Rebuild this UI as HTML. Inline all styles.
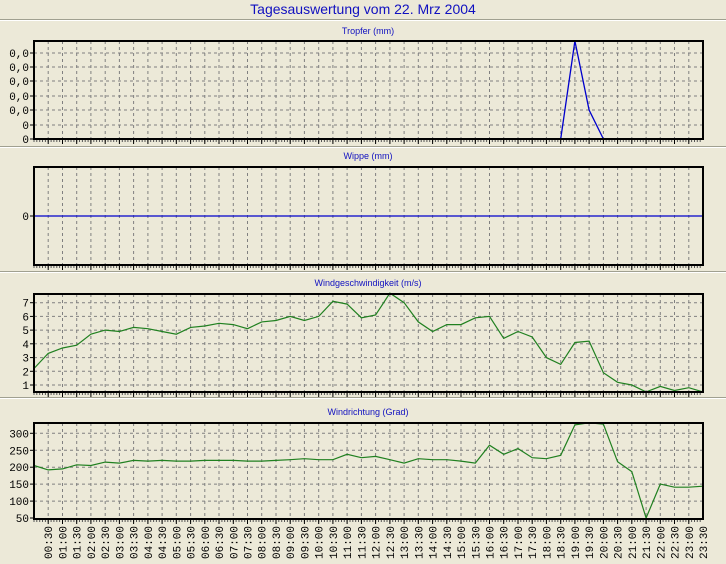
<!DOCTYPE html>
<html><head><meta charset="utf-8"><style>
html,body{margin:0;padding:0;background:#ECE9D8;}
svg{display:block;}
text{font-family:"Liberation Sans",sans-serif;}
.m{font-family:"Liberation Mono",monospace;font-size:11px;fill:#000;}
</style></head><body>
<svg id="s" width="726" height="564" xmlns="http://www.w3.org/2000/svg"></svg>
<script>
const s=document.getElementById('s');let h='';
const X=k=>34+k*669/47;
h+='<rect width="726" height="564" fill="#ECE9D8"/>';
h+='<text x="363" y="14" text-anchor="middle" font-size="14" fill="#1010c0">Tagesauswertung vom 22. Mrz 2004</text>';
[19,146,271,397].forEach(y=>{h+=`<line x1="0" x2="726" y1="${y}.5" y2="${y}.5" stroke="#a0a090"/><line x1="0" x2="726" y1="${y+1}.5" y2="${y+1}.5" stroke="#fff"/>`;});
const panels=[
 {t:'Tropfer (mm)',ty:34,top:41,bot:139,hy:[53,67,81,96,110,125],lab:[[53,'0,0'],[67,'0,0'],[81,'0,0'],[96,'0,0'],[110,'0,0'],[125,'0'],[139,'0']]},
 {t:'Wippe (mm)',ty:159,top:167,bot:265,hy:[],lab:[[216,'0']]},
 {t:'Windgeschwindigkeit (m/s)',ty:286,top:294,bot:392,hy:[],lab:[]},
 {t:'Windrichtung (Grad)',ty:415,top:423,bot:519,hy:[],lab:[]}
];
const ws=[2.2,3.3,3.7,3.9,4.7,5.0,4.9,5.2,5.1,4.9,4.7,5.2,5.3,5.5,5.4,5.1,5.6,5.7,6.0,5.7,6.0,7.1,6.9,5.9,6.1,7.7,7.0,5.6,4.9,5.4,5.4,5.9,6.0,4.4,4.9,4.5,3.0,2.5,4.1,4.2,1.9,1.2,1.0,0.5,0.9,0.6,0.8,0.5];
const wd=[205,192,195,207,205,215,212,220,218,220,218,218,220,220,220,218,218,220,222,225,222,222,238,228,232,222,212,225,222,222,218,212,265,238,255,228,225,235,325,331,327,216,187,50,150,141,141,144];
const Yw=v=>385-(v-1)*13.72, Yd=d=>518-(d-50)*0.3387;
for(let v=1;v<=7;v++){panels[2].hy.push(Yw(v));panels[2].lab.push([Yw(v),''+v]);}
for(let d=50;d<=300;d+=50){if(d>50)panels[3].hy.push(Yd(d));panels[3].lab.push([Yd(d),''+d]);}
panels.forEach((p,i)=>{
 h+=`<text x="368" y="${p.ty}" text-anchor="middle" font-size="9" fill="#1010c0">${p.t}</text>`;
 for(let k=1;k<47;k++)h+=`<line x1="${X(k).toFixed(1)}" x2="${X(k).toFixed(1)}" y1="${p.top}" y2="${p.bot}" stroke="#808080" stroke-dasharray="3,3"/>`;
 p.hy.forEach(y=>h+=`<line x1="34" x2="703" y1="${y.toFixed(1)}" y2="${y.toFixed(1)}" stroke="#808080" stroke-dasharray="3,3"/>`);
 p.lab.forEach(([y,t])=>{h+=`<text class="m" x="29" y="${(y+4).toFixed(1)}" text-anchor="end">${t}</text><line x1="30" x2="34" y1="${y.toFixed(1)}" y2="${y.toFixed(1)}" stroke="#000"/>`;});
 for(let x=34;x<703;x+=669/235)h+=`<line x1="${x.toFixed(1)}" x2="${x.toFixed(1)}" y1="${p.bot}" y2="${p.bot+3}" stroke="#555"/>`;
 for(let k=1;k<47;k++)h+=`<line x1="${X(k).toFixed(1)}" x2="${X(k).toFixed(1)}" y1="${p.bot}" y2="${p.bot+5}" stroke="#000"/>`;
});
// series
let pt=[];for(let k=37;k<=40;k++)pt.push(X(k).toFixed(1)+','+[139,41,110,139][k-37]);
h+=`<polyline points="${pt.join(' ')}" fill="none" stroke="#0000cc" stroke-width="1.3"/>`;
h+=`<line x1="34" x2="703" y1="216" y2="216" stroke="#0000cc" stroke-width="1.3"/>`;
h+=`<polyline points="${ws.map((v,k)=>X(k).toFixed(1)+','+Yw(v).toFixed(1)).join(' ')}" fill="none" stroke="#208020" stroke-width="1.2"/>`;
h+=`<polyline points="${wd.map((v,k)=>X(k).toFixed(1)+','+Yd(v).toFixed(1)).join(' ')}" fill="none" stroke="#208020" stroke-width="1.2"/>`;
panels.forEach(p=>h+=`<rect x="34" y="${p.top}" width="669" height="${p.bot-p.top}" fill="none" stroke="#000" stroke-width="2"/>`);
for(let k=1;k<=47;k++){const hh=String(Math.floor(k/2)).padStart(2,'0'),mm=k%2?'30':'00';const x=X(k)+4;
 h+=`<text class="m" transform="translate(${x.toFixed(1)},559) rotate(-90)">${hh}:${mm}</text>`;}
s.innerHTML=h;
</script>
</body></html>
